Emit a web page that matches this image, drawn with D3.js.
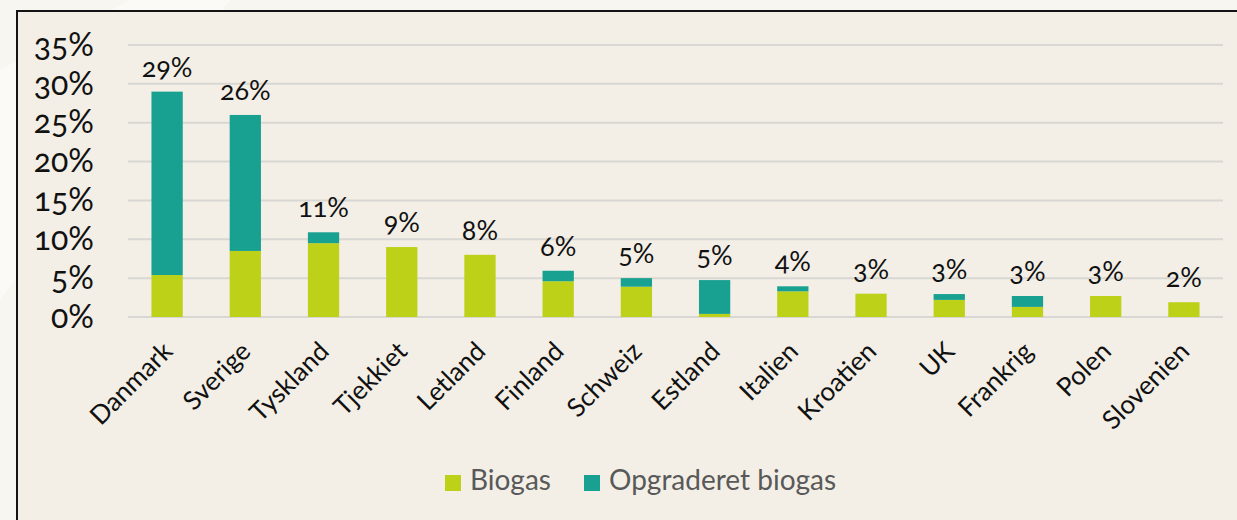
<!DOCTYPE html>
<html>
<head>
<meta charset="utf-8">
<script src="https://cdn.jsdelivr.net/npm/d3@7"></script>
<style>
  html, body { margin: 0; padding: 0; background: #f8f6f0; }
  svg { display: block; font-family: Lato, "Noto Sans", sans-serif; font-feature-settings: "onum" 1; }
</style>
</head>
<body>
<svg id="chart" width="1237" height="520"></svg>
<script>
// Share of biogas in gas consumption, by country
const categories = ["Danmark", "Sverige", "Tyskland", "Tjekkiet", "Letland", "Finland", "Schweiz",
                    "Estland", "Italien", "Kroatien", "UK", "Frankrig", "Polen", "Slovenien"];
const biogas   = [5.4, 8.5, 9.5, 9.0, 8.0, 4.6, 3.9, 0.4, 3.3, 3.0, 2.2, 1.3, 2.7, 1.9];
const upgraded = [23.6, 17.5, 1.4, 0, 0, 1.35, 1.1, 4.35, 0.65, 0, 0.75, 1.4, 0, 0];
const yTicks = [0, 5, 10, 15, 20, 25, 30, 35];
const seriesNames = ["Biogas", "Opgraderet biogas"];
const colors = ["#bdd118", "#18a090"];

const svg = d3.select("#chart");
const W = 1237, H = 520;

// outer page backdrop with a soft diagonal band
svg.append("rect").attr("width", W).attr("height", H).attr("fill", "#f8f6f0");
svg.append("polygon")
  .attr("points", "0,70 130,0 230,0 0,300")
  .attr("fill", "#fbfaf6");

// chart panel
svg.append("rect")
  .attr("x", 17).attr("y", 11)
  .attr("width", W + 20).attr("height", H + 20)
  .attr("fill", "#f3efe6")
  .attr("stroke", "#141414").attr("stroke-width", 2);

const x = d3.scaleBand().domain(categories).range([128, 1223]).paddingInner(0.6).paddingOuter(0.3);
const y = d3.scaleLinear().domain([0, 35]).range([317, 45]);

// gridlines
svg.append("g").selectAll("line").data(yTicks).join("line")
  .attr("x1", 128).attr("x2", 1223)
  .attr("y1", d => y(d)).attr("y2", d => y(d))
  .attr("stroke", "#d9d7d3").attr("stroke-width", 2);

// y axis labels
const yAxis = d3.axisLeft(y).tickValues(yTicks).tickFormat(d => d + "%").tickSize(0).tickPadding(0);
const yg = svg.append("g").attr("transform", "translate(94,0)").call(yAxis)
  .attr("font-family", null).attr("font-size", null);
yg.select(".domain").remove();
yg.selectAll("text").attr("font-size", 32).attr("fill", "#111");

// stacked bars
const rows = categories.map((c, i) => ({ cat: c, Biogas: biogas[i], "Opgraderet biogas": upgraded[i] }));
const stack = d3.stack().keys(seriesNames)(rows);
svg.append("g").selectAll("g").data(stack).join("g")
  .attr("fill", (d, i) => colors[i])
  .selectAll("rect").data(d => d).join("rect")
  .attr("x", d => x(d.data.cat))
  .attr("width", x.bandwidth())
  .attr("y", d => y(d[1]))
  .attr("height", d => y(d[0]) - y(d[1]));

// total labels
svg.append("g").selectAll("text").data(rows).join("text")
  .attr("x", d => x(d.cat) + x.bandwidth() / 2)
  .attr("y", d => y(d.Biogas + d["Opgraderet biogas"]) - 15)
  .attr("text-anchor", "middle")
  .attr("font-size", 27).attr("fill", "#111")
  .text(d => Math.round(d.Biogas + d["Opgraderet biogas"]) + "%");

// category axis labels
const xAxis = d3.axisBottom(x).tickSize(0).tickPadding(0);
const xg = svg.append("g").call(xAxis).attr("font-family", null).attr("font-size", null);
xg.select(".domain").remove();
xg.selectAll(".tick text")
  .attr("font-size", 26).attr("fill", "#111")
  .attr("text-anchor", "end").attr("dy", null).attr("y", null)
  .attr("transform", "translate(7,353) rotate(-45)");

// legend
const legend = svg.append("g");
const legendX = [445, 584];
seriesNames.forEach((name, i) => {
  legend.append("rect").attr("x", legendX[i]).attr("y", 475).attr("width", 16).attr("height", 16).attr("fill", colors[i]);
  legend.append("text").attr("x", legendX[i] + 25).attr("y", 490)
    .attr("font-size", 28).attr("fill", "#595959").text(name);
});
</script>
</body>
</html>
